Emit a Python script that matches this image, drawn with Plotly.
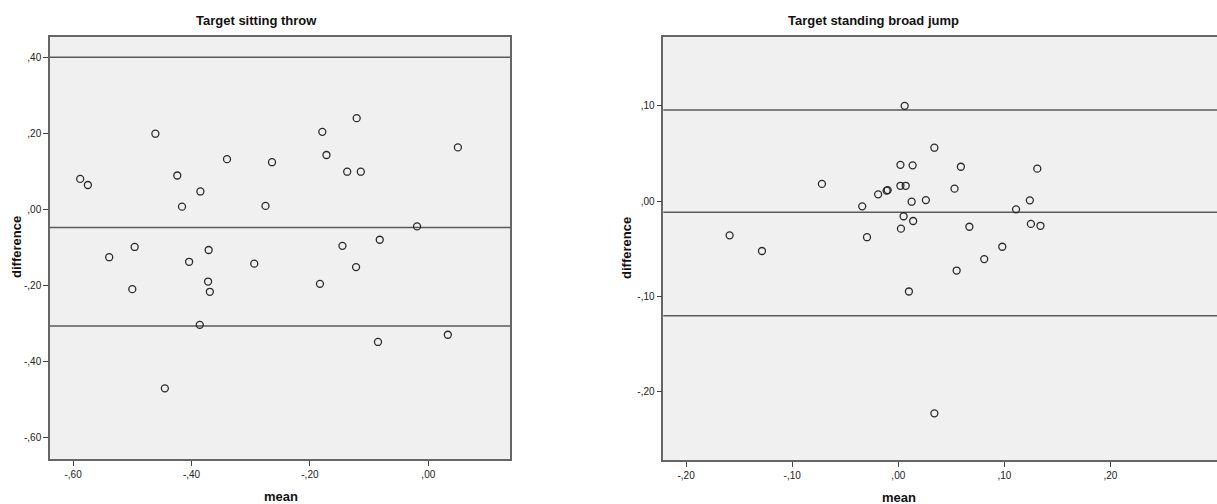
import plotly.graph_objects as go

# ---- data: Target sitting throw ----
sit_mean = [-0.588, -0.575, -0.461, -0.424, -0.416, -0.385, -0.340, -0.264, -0.275,
            -0.179, -0.172, -0.121, -0.137, -0.114, 0.050, -0.019, -0.082, -0.145,
            -0.371, -0.496, -0.539, -0.404, -0.294, -0.122, -0.372, -0.369, -0.500,
            -0.183, -0.386, -0.085, 0.033, -0.445]
sit_diff = [0.081, 0.065, 0.200, 0.090, 0.008, 0.048, 0.133, 0.125, 0.010,
            0.205, 0.144, 0.241, 0.100, 0.100, 0.164, -0.044, -0.079, -0.095,
            -0.106, -0.098, -0.125, -0.137, -0.142, -0.151, -0.189, -0.216, -0.209,
            -0.195, -0.303, -0.348, -0.329, -0.470]
sit_lines = [0.401, -0.047, -0.306]

# ---- data: Target standing broad jump ----
jump_mean = [0.006, 0.034, 0.002, 0.0135, 0.059, 0.131, -0.072, 0.002, 0.007,
             0.053, -0.011, -0.010, -0.019, 0.026, 0.0126, 0.124, -0.034, 0.111,
             0.005, 0.014, 0.125, 0.134, 0.067, 0.0025, -0.159, -0.0295, -0.1285,
             0.098, 0.081, 0.055, 0.010, 0.034]
jump_diff = [0.100, 0.056, 0.038, 0.0375, 0.036, 0.034, 0.018, 0.016, 0.016,
             0.013, 0.011, 0.0115, 0.007, 0.001, -0.0007, 0.0007, -0.0056, -0.0087,
             -0.016, -0.021, -0.024, -0.026, -0.027, -0.029, -0.036, -0.038, -0.0525,
             -0.048, -0.061, -0.073, -0.095, -0.223]
jump_lines = [0.0956, -0.0119, -0.1205]

sit_xticks = [-0.6, -0.4, -0.2, 0.0]
sit_xtext = ["-,60", "-,40", "-,20", ",00"]
sit_yticks = [0.4, 0.2, 0.0, -0.2, -0.4, -0.6]
sit_ytext = [",40", ",20", ",00", "-,20", "-,40", "-,60"]
jump_xticks = [-0.2, -0.1, 0.0, 0.1, 0.2]
jump_xtext = ["-,20", "-,10", ",00", ",10", ",20"]
jump_yticks = [0.1, 0.0, -0.1, -0.2]
jump_ytext = [",10", ",00", "-,10", "-,20"]

W, H = 1217, 504
FONT = "Liberation Sans, Arial, sans-serif"
marker = dict(symbol="circle-open", size=7, color="#2a2a2a", line=dict(width=1.3, color="#2a2a2a"))

fig = go.Figure()
fig.add_trace(go.Scatter(x=sit_mean, y=sit_diff, mode="markers", marker=marker,
                         xaxis="x", yaxis="y", showlegend=False))
fig.add_trace(go.Scatter(x=jump_mean, y=jump_diff, mode="markers", marker=marker,
                         xaxis="x2", yaxis="y2", showlegend=False))

for v in sit_lines:
    fig.add_shape(type="line", xref="x domain", yref="y", x0=0, x1=1, y0=v, y1=v,
                  line=dict(color="#5a5a5a", width=1.5), layer="below")
for v in jump_lines:
    fig.add_shape(type="line", xref="x2 domain", yref="y2", x0=0, x1=1, y0=v, y1=v,
                  line=dict(color="#5a5a5a", width=1.5), layer="below")

def px_x(p):
    return p / W

def px_y(p):
    return 1 - p / H

axis_common = dict(showgrid=False, zeroline=False, ticks="outside", ticklen=5,
                   tickcolor="#444", linecolor="#666", linewidth=1.5,
                   tickfont=dict(family=FONT, size=10, color="#222"))

fig.update_layout(
    width=W, height=H,
    margin=dict(l=0, r=0, t=0, b=0),
    paper_bgcolor="white",
    plot_bgcolor="#F0F0F0",
    xaxis=dict(domain=[px_x(50), px_x(510)], range=[-0.639, 0.138], anchor="y",
               tickvals=sit_xticks, ticktext=sit_xtext, mirror=True, showline=True, **axis_common),
    yaxis=dict(domain=[px_y(459), px_y(37)], range=[-0.656, 0.4545], anchor="x",
               tickvals=sit_yticks, ticktext=sit_ytext, mirror=True, showline=True, **axis_common),
    xaxis2=dict(domain=[px_x(663.3), 1.0], range=[-0.2215, 0.3004], anchor="y2",
                tickvals=jump_xticks, ticktext=jump_xtext, mirror=True, showline=True, **axis_common),
    yaxis2=dict(domain=[px_y(460), px_y(36.7)], range=[-0.272, 0.1726], anchor="x2",
                tickvals=jump_yticks, ticktext=jump_ytext, mirror=False, showline=True, **axis_common),
)

bold = dict(family=FONT, size=13, color="#111")
annots = [
    dict(text="<b>Target sitting throw</b>", x=px_x(256), y=px_y(21)),
    dict(text="<b>Target standing broad jump</b>", x=px_x(874), y=px_y(21)),
    dict(text="<b>mean</b>", x=px_x(281), y=px_y(496)),
    dict(text="<b>mean</b>", x=px_x(899), y=px_y(497)),
    dict(text="<b>difference</b>", x=px_x(16), y=px_y(247), textangle=-90),
    dict(text="<b>difference</b>", x=px_x(626), y=px_y(248), textangle=-90),
]
for a in annots:
    fig.add_annotation(xref="paper", yref="paper", showarrow=False, font=bold,
                       xanchor="center", yanchor="middle", **a)

fig.write_html("out.html",
               config={"displayModeBar": False},
               post_script="document.body.style.margin='0';document.body.style.overflow='hidden';")
